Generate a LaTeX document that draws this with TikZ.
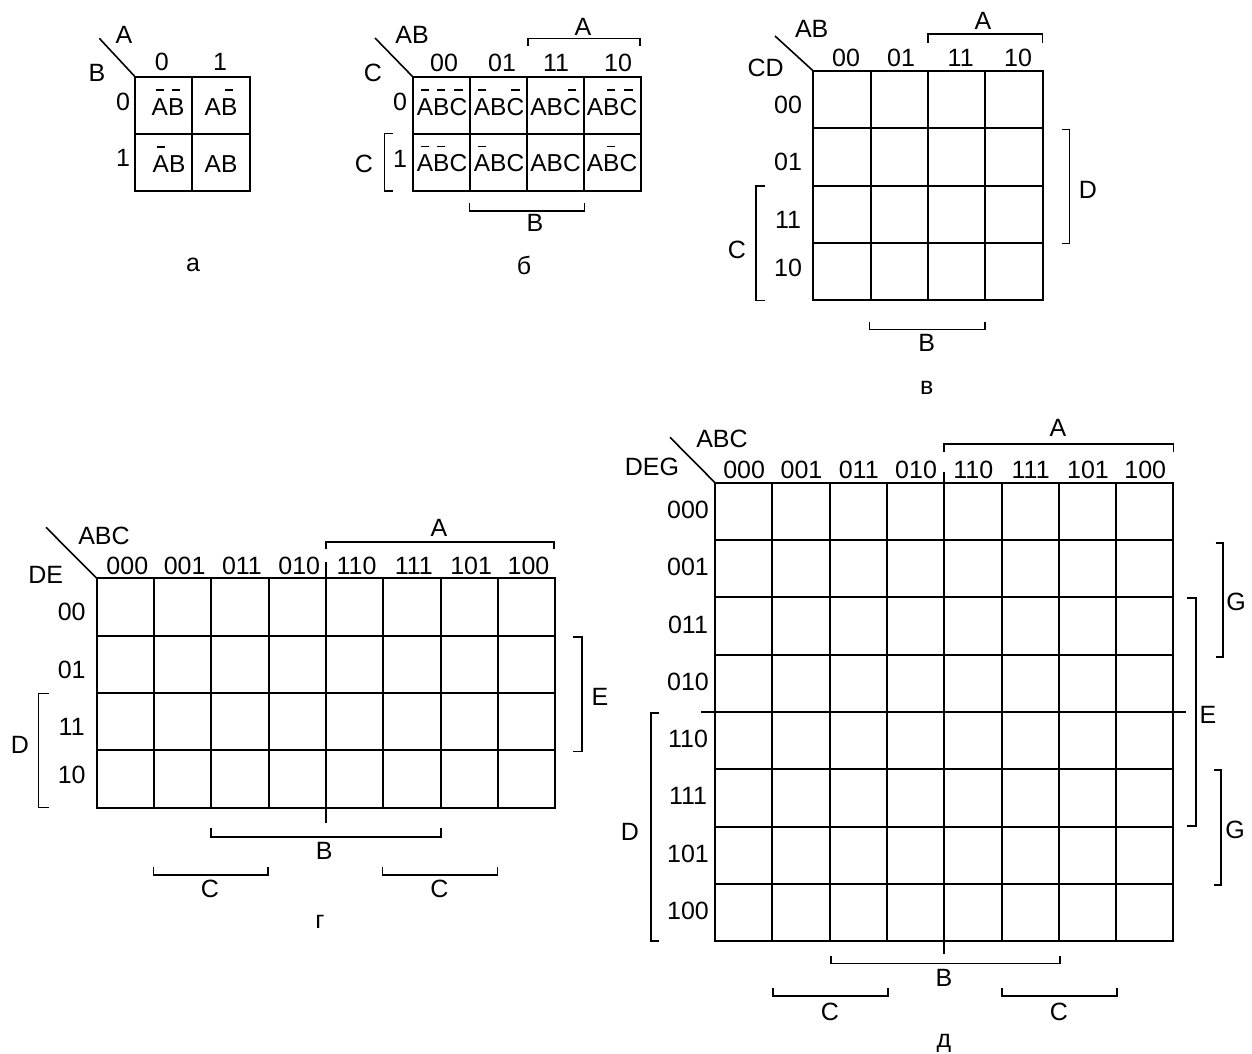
\documentclass[tikz,border=0pt]{standalone}
\usepackage{fontspec}
\setmainfont{Liberation Sans}
\newcommand{\ngt}[1]{\setbox0\hbox{#1}\rlap{\hbox to\wd0{\hss\rule[1.0em]{0.34em}{1.3pt}\hss}}\box0}
\tikzset{
  gridln/.style={line width=2pt, line cap=rect},
  brk/.style={line width=1.6pt},
  diag/.style={line width=1.6pt},
  lbl/.style={inner sep=0pt, font=\fontsize{25}{29}\selectfont},
  ctext/.style={inner sep=0pt, anchor=base, font=\fontsize{24.5}{28}\selectfont},
}
\newcommand{\kgrid}[5]{%
  \foreach \i in {0,...,#3} \draw[gridln] ({#1+\i*#5},#2) -- ({#1+\i*#5},{#2+#4*#5});
  \foreach \j in {0,...,#4} \draw[gridln] (#1,{#2+\j*#5}) -- ({#1+#3*#5},{#2+\j*#5});
}
% horizontal bracket: x1 x2 y ytick
\newcommand{\hbrk}[4]{\draw[brk] (#1,#4) -- (#1,#3) -- (#2,#3) -- (#2,#4);}
% vertical bracket: y1 y2 x xtick
\newcommand{\vbrk}[4]{\draw[brk] (#4,#1) -- (#3,#1) -- (#3,#2) -- (#4,#2);}
\begin{document}
\begin{tikzpicture}[x=1pt,y=-1pt]
\fill[white] (0,0) rectangle (1252,1053);
\useasboundingbox (0,0) rectangle (1252,1053);

% ---------------- panel a ----------------
\kgrid{135}{76.7}{2}{2}{57.3}
\draw[diag] (99.3,38.3) -- (135,76.7);
\node[lbl] (aA) at (124,35) {A};
\node[lbl] (aB) at (97,72.7) {B};
\node[lbl] (ac0) at (161.7,61.7) {0};
\node[lbl] (ac1) at (220,61.7) {1};
\node[lbl] (ar0) at (123,102) {0};
\node[lbl] (ar1) at (123,158.3) {1};
\node[ctext] (a00) at (168,115) {\ngt{A}\ngt{B}};
\node[ctext] (a01) at (221,115) {A\ngt{B}};
\node[ctext] (a10) at (169,172) {\ngt{A}B};
\node[ctext] (a11) at (221,172) {AB};
\node[lbl] (alab) at (193,265) {а};

% ---------------- panel b ----------------
\kgrid{412.7}{76.7}{4}{2}{57}
\draw[diag] (375,38) -- (412.7,76.7);
\node[lbl] (bAB) at (412,35) {AB};
\node[lbl] (bC) at (373,73) {C};
\node[lbl] (bc0) at (444,62.5) {00};
\node[lbl] (bc1) at (502,62.5) {01};
\node[lbl] (bc2) at (556,62.5) {11};
\node[lbl] (bc3) at (618,62.5) {10};
\node[lbl] (br0) at (400,102) {0};
\node[lbl] (br1) at (400,159) {1};
\hbrk{527.7}{640}{38.3}{46}
\node[lbl] (bA) at (583,27) {A};
\vbrk{133.3}{190.7}{384.3}{393.3}
\node[lbl] (bC2) at (364,164) {C};
\hbrk{469.3}{584.3}{210.7}{202.7}
\node[lbl] (bB) at (535,223.3) {B};
\node[ctext] (b00) at (442,115) {\ngt{A}\ngt{B}\ngt{C}};
\node[ctext] (b01) at (499,115) {\ngt{A}B\ngt{C}};
\node[ctext] (b02) at (555.5,115) {AB\ngt{C}};
\node[ctext] (b03) at (612,115) {A\ngt{B}\ngt{C}};
\node[ctext] (b10) at (442,171.7) {\ngt{A}\ngt{B}C};
\node[ctext] (b11) at (499,171.7) {\ngt{A}BC};
\node[ctext] (b12) at (555.5,171.7) {ABC};
\node[ctext] (b13) at (612,171.7) {A\ngt{B}C};
\node[lbl] (blab) at (524,265) {б};

% ---------------- panel v ----------------
\kgrid{813.3}{71}{4}{4}{57.3}
\draw[diag] (775,36) -- (813.3,71);
\node[lbl] (vAB) at (811.7,29) {AB};
\node[lbl] (vCD) at (765.7,68) {CD};
\node[lbl] (vc0) at (846,58) {00};
\node[lbl] (vc1) at (901,58) {01};
\node[lbl] (vc2) at (960.7,58) {11};
\node[lbl] (vc3) at (1018,58) {10};
\hbrk{927.7}{1042.3}{34}{42.7}
\node[lbl] (vA) at (983,20.7) {A};
\node[lbl] (vr0) at (788,105) {00};
\node[lbl] (vr1) at (788,162) {01};
\node[lbl] (vr2) at (788,220) {11};
\node[lbl] (vr3) at (788,268) {10};
\vbrk{129.3}{243.3}{1069.3}{1062}
\node[lbl] (vD) at (1088,190) {D};
\vbrk{186}{300.5}{756}{765}
\node[lbl] (vC) at (737,250) {C};
\hbrk{869.3}{985}{329.3}{321.7}
\node[lbl] (vB) at (926.7,343.3) {B};
\node[lbl] (vlab) at (926.7,388.3) {в};

% ---------------- panel g ----------------
\kgrid{96.7}{578.3}{8}{4}{57.3}
\draw[gridln] (325.9,562.7) -- (325.9,822.3);
\draw[diag] (46,527.3) -- (96.7,578.3);
\node[lbl] (gABC) at (104,536.3) {ABC};
\node[lbl] (gDE) at (45.7,575.3) {DE};
\foreach \t [count=\k from 0] in {000,001,011,010,110,111,101,100}
  \node[lbl, name=gc\k] at ({96.7+(\k+0.5)*57.3+2},566) {\t};
\hbrk{326}{554}{541.7}{549.3}
\node[lbl] (gA) at (439,528) {A};
\node[lbl] (gr0) at (71.7,611.7) {00};
\node[lbl] (gr1) at (71.7,670) {01};
\node[lbl] (gr2) at (71.7,726.7) {11};
\node[lbl] (gr3) at (71.7,775) {10};
\vbrk{636.7}{751.3}{582}{573}
\node[lbl] (gE) at (600,697) {E};
\vbrk{693.3}{807.3}{38.3}{49}
\node[lbl] (gD) at (20,745) {D};
\hbrk{211}{441}{836.7}{828.3}
\node[lbl] (gB) at (324.3,851) {B};
\hbrk{153.3}{267.7}{875}{866.7}
\node[lbl] (gC1) at (210,889) {C};
\hbrk{382.3}{497.3}{875}{866.7}
\node[lbl] (gC2) at (439.3,889) {C};
\node[lbl] (glab) at (320,921.7) {г};

% ---------------- panel d ----------------
\kgrid{715}{482.7}{8}{8}{57.3}
\draw[gridln] (944.2,473) -- (944.2,953);
\draw[gridln] (701.7,711.9) -- (1185,711.9);
\draw[diag] (670,437.3) -- (715,482.7);
\node[lbl] (dABC) at (722,439) {ABC};
\node[lbl] (dDEG) at (652,466.7) {DEG};
\foreach \t [count=\k from 0] in {000,001,011,010,110,111,101,100}
  \node[lbl, name=dc\k] at ({715+(\k+0.5)*57.3+0.5},470) {\t};
\hbrk{944.2}{1173.4}{444}{452}
\node[lbl] (dA) at (1058,428) {A};
\foreach \t [count=\k from 0] in {000,001,011,010,110,111,101,100}
  \node[lbl, name=dr\k] at (688,{482.7+(\k+0.5)*57.3-1.5}) {\t};
\vbrk{712.7}{941}{650.7}{659.3}
\node[lbl] (dD) at (630,832) {D};
\vbrk{542.7}{656.7}{1222.7}{1215.7}
\node[lbl] (dG1) at (1236,601.7) {G};
\vbrk{597.7}{826}{1195.7}{1186.7}
\node[lbl] (dE) at (1208,715) {E};
\vbrk{770}{885}{1221}{1214}
\node[lbl] (dG2) at (1235,830) {G};
\hbrk{830.7}{1060}{963.3}{956}
\node[lbl] (dB) at (944,978) {B};
\hbrk{772.7}{887.7}{996}{988.3}
\node[lbl] (dC1) at (830,1011.7) {C};
\hbrk{1001.7}{1117}{996}{988.3}
\node[lbl] (dC2) at (1059,1011.7) {C};
\node[lbl] (dlab) at (944,1043) {д};
\end{tikzpicture}
\end{document}
